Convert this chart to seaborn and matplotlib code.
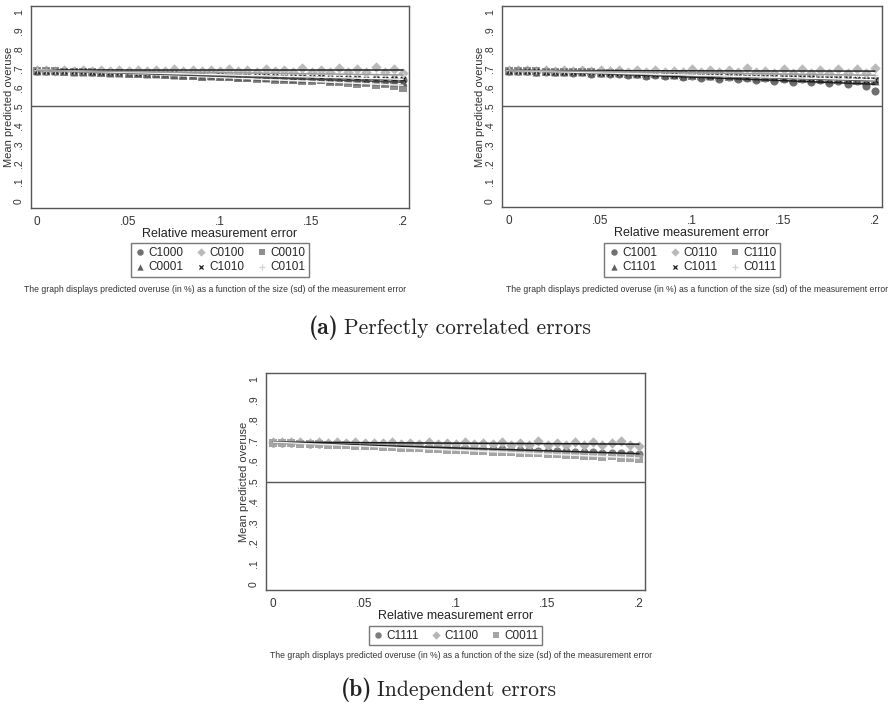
import matplotlib
matplotlib.use("Agg")
import matplotlib.pyplot as plt
import seaborn as sns

# relative measurement error grid (x axis)
x_err = [0, .005, .01, .015, .02, .025, .03, .035, .04, .045,
         .05, .055, .06, .065, .07, .075, .08, .085, .09, .095,
         .1, .105, .11, .115, .12, .125, .13, .135, .14, .145,
         .15, .155, .16, .165, .17, .175, .18, .185, .19, .195, .2]

# (a) left panel
c1000 = [.690, .689, .688, .689, .686, .687, .684, .686, .682, .684,
         .680, .681, .677, .679, .674, .676, .671, .674, .668, .672,
         .665, .669, .663, .666, .659, .664, .656, .661, .654, .659,
         .651, .657, .648, .652, .645, .650, .642, .648, .640, .646, .638]
c0100 = [.691, .692, .690, .693, .689, .694, .690, .691, .688, .695,
         .690, .693, .687, .692, .689, .696, .686, .691, .688, .694,
         .686, .697, .687, .692, .684, .699, .686, .693, .683, .702,
         .685, .695, .682, .704, .684, .698, .681, .708, .683, .701, .679]
c0010 = [.689, .688, .686, .685, .683, .684, .680, .679, .677, .678,
         .674, .672, .671, .673, .667, .666, .664, .662, .658, .663,
         .655, .654, .652, .649, .646, .651, .642, .641, .639, .634,
         .635, .639, .629, .627, .625, .619, .623, .612, .618, .607, .596]
c0001 = [.690, .688, .687, .687, .684, .684, .682, .681, .679, .678,
         .676, .675, .673, .672, .670, .669, .667, .665, .664, .663,
         .660, .659, .657, .656, .654, .652, .651, .649, .648, .646,
         .644, .643, .641, .639, .638, .636, .634, .633, .631, .630, .628]
c1010 = [.690, .689, .688, .688, .686, .686, .685, .684, .682, .682,
         .680, .679, .678, .677, .676, .675, .673, .672, .671, .670,
         .668, .667, .666, .665, .663, .662, .661, .660, .658, .657,
         .656, .655, .653, .652, .651, .650, .648, .647, .646, .645, .643]
c0101 = [.691, .689, .690, .688, .689, .687, .688, .686, .687, .685,
         .686, .683, .685, .682, .684, .681, .683, .680, .681, .679,
         .680, .677, .679, .676, .678, .675, .677, .673, .676, .672,
         .674, .671, .673, .669, .672, .668, .671, .667, .670, .666, .668]

# (a) right panel
c1001 = [.689, .687, .688, .684, .685, .681, .683, .678, .680, .674,
         .677, .671, .674, .667, .671, .663, .668, .659, .665, .655,
         .662, .651, .659, .647, .656, .644, .653, .640, .650, .636,
         .646, .632, .643, .628, .640, .624, .636, .619, .633, .608, .580]
c0110 = [.692, .691, .693, .690, .694, .689, .692, .688, .693, .687,
         .692, .686, .694, .685, .691, .684, .695, .683, .690, .683,
         .697, .682, .691, .681, .693, .680, .702, .680, .690, .679,
         .697, .678, .699, .677, .692, .678, .701, .676, .698, .675, .706]
c1110 = [.690, .689, .687, .687, .685, .685, .683, .682, .680, .680,
         .678, .676, .676, .673, .673, .671, .670, .668, .667, .666,
         .664, .663, .661, .660, .658, .657, .655, .654, .652, .651,
         .649, .648, .646, .645, .643, .642, .640, .639, .637, .636, .634]
c1101 = [.690, .688, .688, .685, .686, .683, .683, .680, .681, .677,
         .678, .675, .675, .672, .673, .669, .670, .666, .667, .664,
         .665, .661, .662, .658, .659, .656, .657, .653, .654, .650,
         .651, .647, .649, .644, .646, .641, .643, .638, .641, .636, .634]
c1011 = [.690, .689, .687, .687, .685, .684, .683, .682, .681, .680,
         .678, .677, .676, .675, .673, .672, .671, .670, .668, .667,
         .666, .665, .663, .662, .661, .660, .658, .657, .656, .655,
         .653, .652, .651, .649, .648, .647, .646, .644, .643, .642, .640]
c0111 = [.691, .690, .690, .689, .689, .688, .687, .687, .686, .686,
         .685, .684, .684, .683, .682, .682, .681, .680, .680, .679,
         .678, .678, .677, .676, .676, .675, .674, .674, .673, .672,
         .672, .671, .670, .670, .669, .668, .668, .667, .666, .666, .665]

# (b) panel
c1111 = [.690, .688, .688, .686, .685, .684, .683, .681, .681, .679,
         .678, .676, .676, .674, .672, .672, .670, .667, .668, .665,
         .664, .663, .661, .660, .658, .657, .656, .654, .653, .651,
         .650, .648, .647, .645, .644, .642, .641, .639, .638, .636, .635]
c1100 = [.692, .693, .691, .692, .690, .694, .689, .691, .688, .693,
         .687, .690, .686, .692, .685, .689, .684, .693, .683, .688,
         .682, .694, .682, .687, .681, .693, .680, .686, .679, .698,
         .679, .686, .678, .694, .677, .692, .676, .689, .699, .676, .671]
c0011 = [.689, .688, .686, .684, .684, .681, .680, .678, .677, .674,
         .673, .672, .669, .668, .665, .664, .662, .660, .658, .656,
         .653, .654, .649, .650, .645, .644, .643, .640, .638, .637,
         .633, .632, .628, .630, .625, .624, .620, .622, .617, .613, .612]

x_ticks = [0, .05, .1, .15, .2]
x_tick_labels = ["0", ".05", ".1", ".15", ".2"]
y_ticks = [0, .1, .2, .3, .4, .5, .6, .7, .8, .9, 1]
y_tick_labels = ["0", ".1", ".2", ".3", ".4", ".5", ".6", ".7", ".8", ".9", "1"]

caption = ("The graph displays predicted overuse (in %) as a function of "
           "the size (sd) of the measurement error")

# marker look per series slot (Stata-like mono scheme)
STYLES = [
    dict(marker="o", color="#707070", s=34, fit="#1e1e1e"),
    dict(marker="D", color="#bababa", s=28, fit="#222222"),
    dict(marker="s", color="#8f8f8f", s=30, fit="#efefef"),
    dict(marker="^", color="#5f5f5f", s=32, fit="#444444"),
    dict(marker="x", color="#1c1c1c", s=14, fit="#f4f4f4"),
    dict(marker="+", color="#d2d2d2", s=24, fit="#9a9a9a"),
]

W, H = 896, 708
GRAY = "#555555"


def px_axes(fig, left, top, right, bottom):
    return fig.add_axes([left / W, 1 - bottom / H, (right - left) / W, (bottom - top) / H])


def draw_panel(ax, series, names, xlim, ylim, legend_y, ylab_x, styles=STYLES):
    for vals, st in zip(series, styles):
        sns.scatterplot(x=x_err, y=vals, marker=st["marker"], color=st["color"],
                        s=st["s"], linewidth=0.9 if st["marker"] in "x+" else 0,
                        ax=ax, zorder=2)
    for vals, st in zip(series, styles):
        sns.regplot(x=x_err, y=vals, scatter=False, ci=None, ax=ax, truncate=True,
                    line_kws=dict(color=st["fit"], lw=1.1, zorder=3))
    ax.axhline(0.5, color=GRAY, lw=1.0, zorder=1)

    ax.set_xlim(*xlim)
    ax.set_ylim(*ylim)
    ax.set_xticks(x_ticks)
    ax.set_xticklabels(x_tick_labels)
    ax.set_yticks(y_ticks)
    ax.set_yticklabels(y_tick_labels, rotation=90, va="center")
    ax.tick_params(length=4, width=0.8, color=GRAY, labelsize=8.5,
                   labelcolor="#333333", pad=2)
    ax.tick_params(axis="y", labelsize=7.5, pad=1)
    for sp in ax.spines.values():
        sp.set_color(GRAY)
        sp.set_linewidth(1.0)
    ax.set_xlabel("Relative measurement error", fontsize=9, color="#222222", labelpad=0)
    ax.set_ylabel("Mean predicted overuse", fontsize=8, color="#333333")
    ax.yaxis.set_label_coords(ylab_x, 0.5)

    # legend handles: matplotlib fills columns first, Stata fills rows
    handles = ax.collections[:len(series)]
    if len(series) == 6:
        order = [0, 3, 1, 4, 2, 5]
    else:
        order = list(range(len(series)))
    ax.legend([handles[i] for i in order], [names[i] for i in order], ncol=3,
              loc="upper center", bbox_to_anchor=(0.5, legend_y), frameon=True,
              fancybox=False, edgecolor=GRAY, fontsize=8.5, handletextpad=0.2,
              columnspacing=1.0, borderpad=0.3, labelspacing=0.25,
              handlelength=1.0, borderaxespad=0, markerscale=0.8)


sns.set_style("white")
plt.rcParams["font.family"] = ["Liberation Sans", "DejaVu Sans"]

fig = plt.figure(figsize=(W / 100, H / 100), dpi=100)

ax1 = px_axes(fig, 31, 6, 409, 208)
draw_panel(ax1, [c1000, c0100, c0010, c0001, c1010, c0101],
           ["C1000", "C0100", "C0010", "C0001", "C1010", "C0101"],
           (-6 / 1830, 0.2 + 6 / 1830), (-7 / 189, 1 + 6 / 189), -35 / 202,
           -17 / 378)

ax2 = px_axes(fig, 502, 6, 882, 207)
draw_panel(ax2, [c1001, c0110, c1110, c1101, c1011, c0111],
           ["C1001", "C0110", "C1110", "C1101", "C1011", "C0111"],
           (-7 / 1830, 0.2 + 7 / 1830), (-6 / 189, 1 + 6 / 189), -36 / 201,
           -17 / 380)

bottom_styles = [dict(STYLES[0], color="#7d7d7d"),
                 dict(STYLES[1], color="#b5b5b5", fit="#1a1a1a"),
                 dict(STYLES[2], color="#a5a5a5", fit="#eeeeee")]
ax3 = px_axes(fig, 266, 373, 645, 590)
draw_panel(ax3, [c1111, c1100, c0011], ["C1111", "C1100", "C0011"],
           (-7 / 1830, 0.2 + 6 / 1830), (-6 / 205, 1 + 6 / 205), -36 / 217,
           -17 / 379, styles=bottom_styles)

# captions under each chart
for cx, cy in [(215, 290), (697, 290), (461, 656)]:
    fig.text(cx / W, 1 - cy / H, caption, ha="center", va="center",
             fontsize=6.2, color="#333333")

# sub-figure titles: bold label + roman text
for lx, tx, cy, lab, txt in [(339, 344, 328, "(a)", "Perfectly correlated errors"),
                             (372, 377, 690, "(b)", "Independent errors")]:
    fig.text(lx / W, 1 - cy / H, lab, ha="right", va="center", fontsize=17,
             family="cmb10", color="#222222")
    fig.text(tx / W, 1 - cy / H, txt, ha="left", va="center", fontsize=15.5,
             family="cmr10", color="#222222")

fig.savefig("out.png", dpi=100, facecolor="white")
